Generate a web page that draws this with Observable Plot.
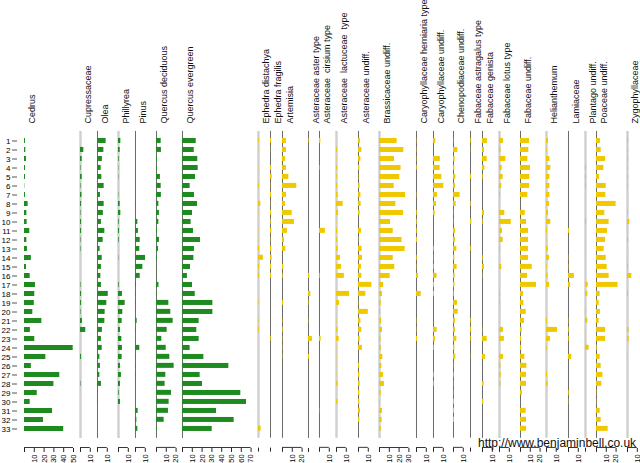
<!DOCTYPE html>
<html><head><meta charset="utf-8">
<script src="https://cdn.jsdelivr.net/npm/d3@7"></script>
<script src="https://cdn.jsdelivr.net/npm/@observablehq/plot@0.6"></script>
<style>
body{margin:0;background:#fff;}
#chart{position:relative;width:640px;height:463px;overflow:hidden;font-family:"Liberation Sans",Arial,sans-serif;background:#fff;}
#chart svg{position:absolute;top:0;}
#url{position:absolute;left:478px;top:436px;font-size:12px;color:#111;font-family:"Liberation Sans",Arial,sans-serif;white-space:nowrap;}
</style></head><body>
<div id="chart"><div id="url">http://www.benjaminbell.co.uk</div></div>
<script>
// sample (depth) labels
const samples = ["1","2","3","4","5","6","7","8","9","10","11","12","13","14","15","16","17","18","19","20","21","22","23","24","25","26","27","28","29","30","31","32","33"];

const taxa = ["Cedrus","Cupressaceae","Olea","Phillyrea","Pinus","Quercus deciduous","Quercus evergreen",
  "Ephedra distachya","Ephedra fragilis","Artemisia","Asteraceae aster type","Asteraceae  cirsium type","Asteraceae  lactuceae  type","Asteraceae undiff.","Brassicaceae undiff.","Caryophyllaceae herniaria type","Caryophyllaceae undiff.","Chenopodiaceae undiff.","Fabaceae astragalus type","Fabaceae genista","Fabaceae lotus type","Fabaceae undiff.","Helianthemum","Lamiaceae","Plantago undiff.","Poaceae undiff.","Zygophyllaceae"];

// percentages per sample 1..33
const cedrus = [1,1.3,2,1,1,0.3,1,3.7,2.4,2.7,5.4,2.4,3,7,2,5.8,11.2,10.5,10,8.5,17.7,6,10.5,49.7,21.8,7,36,30,13,5.8,28.6,19.4,40];
const cupressaceae = [0,3.4,1.7,0.5,1.7,0.5,1.4,1,0.5,1,1,0.5,0.5,0,0,0,0.5,1,1,0.5,2,5.4,0,0,1,0,0,0.5,0,0,0,0,0];
const olea = [8.8,6.5,5,3.7,4.4,6.8,3,6.8,6,4,7.5,5.8,2.7,4.8,4,3.4,4,11,9.5,7.8,7.5,5,4,4.8,2.4,3,2.4,4,0.5,0.5,0,0,0];
const phillyrea = [2.4,1.7,0.7,0.3,0.3,0,0.3,1.7,2.4,0.7,1,0.7,0,0.3,0,0,0.7,4,6.8,4.4,3.7,2,3.4,4,3.7,2,3,2,0.7,2,0,0,0];
const pinus = [0,0,0,0,0.3,0,0,0.5,0,2.4,3,4.8,4.4,10.2,7.5,4.8,1,0.5,0.5,0,1.7,0.5,0,4.4,0.5,0.5,0.5,0,0,0,2.7,1.4,2.4];
const quercusDeciduous = [4.8,5,1,1,4,4.8,5,2.4,3,2.4,1,3,2,1,0.3,0.3,2.5,0.7,12.6,14.6,17,10.9,5.4,9.9,13.6,18,9.5,8.8,15.3,12.9,12.2,7.8,0.7];
const quercusEvergreen = [14,12,15.6,16,13.3,7.8,12.2,15.3,10.2,8.8,11.2,18.4,12.2,11.6,8.2,5,10.2,13,31,31,17,14.6,17,7.8,21.8,47.3,18,20.4,59.5,65.3,34.7,52.7,30.3];
const ephedraDistachya = [0.7,0.3,0,0.3,0,1,0,2.4,0.3,0,0.3,0.3,1,5,1,1,0,0,0.5,0,0.5,1,0,0,0,0,0,0,0,0,0,0,2.7];
const ephedraFragilis = [1,0.3,0,1,1.7,0.3,1,0.3,1,0.7,1.4,0.3,1.4,1.7,1,1,0,0,0,0,0,0,0.7,0,0,0,0,0,0,0,0,0,0];
const artemisia = [4,4,3,4,6.5,14.6,4,3,9.9,12.2,5,2,3.4,0,1.4,0.7,0,0,1,0,0.3,0.7,0.3,0.3,0.3,0,0,0,0,0,0,0,0];
const asterType = [0.5,0,0,0,0,0,0,0,0,0,0,0,0,0,0,1.4,0,2.4,0.5,0,0.3,0,4,0,1,0,0,0,0,0,0,0,0];
const cirsiumType = [1.4,0,0,0.5,0,0,0,0,0,0,6,0,0,0,0,0.7,0,0,0,0,0,0,1.7,0,0,0,0,0,0,0,0.3,0,0];
const lactuceaeType = [0,1,0.3,1,0.7,1,1.7,6.8,2,0.3,1,1,1.7,4,5,8,0,13.3,3,0,0.3,1.4,2.7,0.3,0.3,0.3,0.3,1.4,0,1.4,0,0,0];
const asteraceaeUndiff = [2,3.4,2.4,1.4,0.3,1.7,2.4,2.7,1.7,0,3,0.3,3.7,4,3,3.4,13.6,7.5,0.3,10,2.4,3.4,1.7,4,0,1,1.4,1.7,1.4,1.4,2,1.4,0];
const brassicaceae = [18,24.8,15.3,22,20.7,15,26.5,16.7,24.5,11.2,14,23,26.2,14,15.6,10.9,4.2,3,1.7,1,2,3,1.4,1.7,3.4,2.4,4,5,1.7,0.5,3,2.7,1.7];
const herniariaType = [0.3,0.3,0.3,0.7,0,0,0.3,0,0.7,0.7,0.7,1,0,0.7,0.3,2,0,4.8,0,0,0.3,0.3,1,0,0,0,0,0,0,0,0,0,0];
const caryophyllaceaeUndiff = [2.4,0,7,6.8,8.5,10.5,4,3,1.7,0,0,0,0.7,0.3,0.7,3.7,1,1,0,0,0,3.7,2,0.7,0,0,0.7,0.7,0,0,0,0,0];
const chenopodiaceae = [0.3,4.4,1.7,1.4,2.4,2,6.8,2.7,0.3,0.3,2,2,3.4,1.4,3.7,1.7,1.4,0.7,4,4.8,2,2,3.4,1.4,2.4,0.3,0.7,0.3,0.3,1,1,1,0];
const astragalusType = [0.7,0.3,0,0,1,0,0,0.7,0,1.4,0,0,0.7,0,0,0,0,0,0,0,0.7,1,0.7,0,0.3,0,0,0,0,0,0,0,0];
const genista = [5,2,4.8,2.4,0.7,0,0,0,2,0.7,0,0,0,0.7,2,0.3,0,0,0,0,0,0.3,4.8,0,3,0,0,1.7,0,1.4,0,0,0];
const lotusType = [4,1.4,6.5,2.7,3.7,2.4,1,0.3,5.4,12,3,3.7,0.7,0.3,2.4,0,0,0.7,0.7,0,0.3,4,5,0,4,1.4,1.7,1.4,0,0,0,0,0];
const fabaceaeUndiff = [9.2,8.5,7.5,10.2,9.5,9.2,7.5,0,4.8,6.1,8.2,8.2,8.2,8.2,12,7.1,16.3,3,3.4,5.8,4,1.7,1,1,4.4,6.5,6.1,6.1,2,0,5.8,6.1,6.1];
const helianthemum = [2,0.7,3.4,4.4,3.4,3.4,3.4,3,2,4.4,1,0.3,1.7,3,0.7,1.4,3,0,0,0,1,11.2,4,0.7,0,0,1,1.7,0,0,0,0,0];
const lamiaceae = [0,0,0,0,0,0,0,0,0,0,1,0,0,0.3,0.3,6,2,0,0,0,0.3,0.7,0.7,0,3.4,0,0,0,0.7,0.3,0,0,0];
const plantago = [0,0,0,1,1,1,0,0,0,1,0,0,0.3,0,0,0,2.7,2.4,0,0.7,2.4,0.3,0.3,3.7,0,0,0,0,0,0,0,0,0];
const poaceae = [4,4.8,9.2,7.5,3,9.9,9.5,20,8.5,12.9,11.2,9.2,7.8,9.9,10.9,12.9,22,3.7,2.7,4,2.7,9.2,9.2,0.7,3.7,4.8,6.5,5.4,0.3,0.3,3.7,4.8,11.9];
const zygophyllaceae = [1,0.5,0.7,0.5,0.7,0.5,0,0,0.7,2.4,0.3,1,0,0.3,1,4.4,0,1,0,0,0,1.7,1.7,0,0.3,0,0,0,0,0,0,0,0];

const series = [cedrus,cupressaceae,olea,phillyrea,pinus,quercusDeciduous,quercusEvergreen,
  ephedraDistachya,ephedraFragilis,artemisia,asterType,cirsiumType,lactuceaeType,asteraceaeUndiff,brassicaceae,
  herniariaType,caryophyllaceaeUndiff,chenopodiaceae,astragalusType,genista,lotusType,fabaceaeUndiff,
  helianthemum,lamiaceae,plantago,poaceae,zygophyllaceae];

// panel x-domain extents (percent)
const panelMax = [50,10,14.5,10,14.5,19.4,70.4,5.1,5.1,19.4,4.1,10.2,15.3,14.3,30.6,10,13.5,10.2,5.1,10,14.5,19.4,15.3,10,4.3,24.5,10];

// styles (kept apart from data)
const treeCount = 7;
const treeColor = "#1f8a1f", herbColor = "#efc800";
const zeroLine = ["none","light","dark","light","dark","dark","dark","light","dark","dark","dark","dark","light","dark","light","dark","dark","dark","dark","dark","light","dark","light","dark","light","dark","light"];
const lineStyle = {light: {stroke: "#cfcfcf", strokeWidth: 2.4}, dark: {stroke: "#6a6a6a", strokeWidth: 1}};

const chart = document.getElementById("chart");
const pxPerUnit = 0.98, gap = 7;
let xPos = 24;
const H = 463, MT = 128, MB = 15;
const frameH = H - MT - MB;

series.forEach((vals, i) => {
  const first = i === 0;
  const ml = first ? 17 : 6;
  const inset = first ? 7 : 0;
  const mr = 6;
  const w = panelMax[i] * pxPerUnit;
  const width = ml + inset + w + mr;
  const rows = samples.map((s, j) => ({sample: s, value: vals[j]}));
  const ticks = d3.range(0, panelMax[i] + 1, 10);
  const lastTick = ticks[ticks.length - 1];
  const color = i < treeCount ? treeColor : herbColor;
  const marks = [];
  if (zeroLine[i] !== "none") {
    marks.push(Plot.ruleX([0], {...lineStyle[zeroLine[i]], insetTop: 3, insetBottom: 10}));
  }
  marks.push(Plot.barX(rows.filter(d => d.value > 0), {x: "value", y: "sample", fill: color}));
  // bottom axis line from 0 to the last tick, at the frame's bottom edge
  if (lastTick > 0) {
    marks.push(Plot.rect([0], {x1: 0, x2: lastTick, insetTop: frameH - 0.9, fill: "#222"}));
  }
  marks.push(Plot.axisX({anchor: "bottom", ticks, tickFormat: d => d === 0 ? "" : String(d), tickSize: 4, tickPadding: 2, tickRotate: -90, fontSize: 7.5, label: null, stroke: "#222"}));
  if (first) {
    marks.push(Plot.axisY({anchor: "left", tickSize: 5, tickPadding: 2, fontSize: 8, label: null, stroke: "#555"}));
  }
  marks.push(Plot.text([taxa[i]], {frameAnchor: "top-left", dx: inset + 4, dy: -5, rotate: -90, textAnchor: "start", fontSize: 9, fill: "#111"}));

  const svg = Plot.plot({
    width, height: H,
    marginLeft: ml, marginRight: mr, marginTop: MT, marginBottom: MB,
    style: {fontFamily: "Liberation Sans, Arial, sans-serif", background: "transparent", overflow: "visible"},
    x: {domain: [0, panelMax[i]], insetLeft: inset, axis: null},
    y: {domain: samples, paddingInner: 0.42, paddingOuter: 0.21, insetBottom: 6, axis: null},
    marks
  });
  svg.style.left = (xPos - ml - inset) + "px";
  chart.insertBefore(svg, document.getElementById("url"));
  xPos += w + gap;
});
</script>
</body></html>
